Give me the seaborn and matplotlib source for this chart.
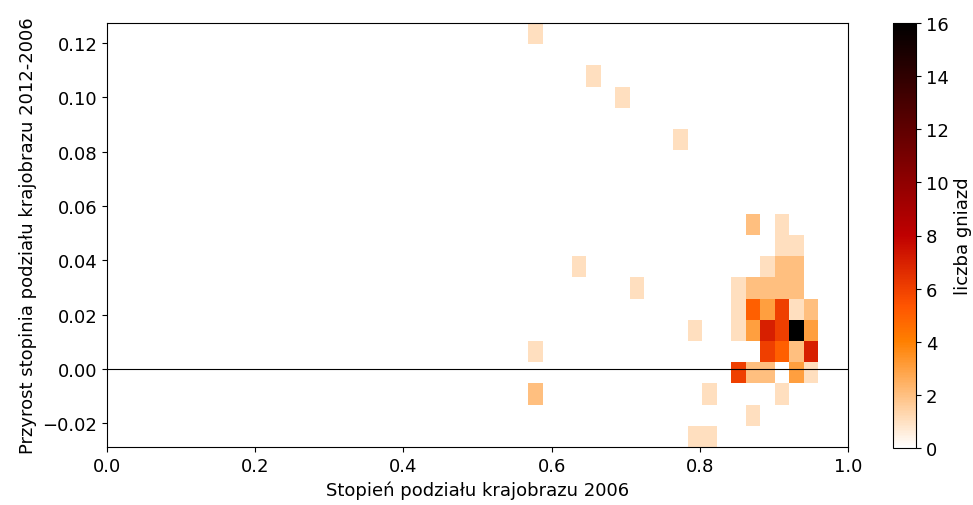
import numpy as np
import pandas as pd
import matplotlib
matplotlib.use("Agg")
import matplotlib.pyplot as plt
import seaborn as sns

# Values: landscape fragmentation 2006 (x),
# its increase 2012-2006 (y) and number of nests (count) per cell
x_vals = [0.578, 0.657, 0.696, 0.774,
          0.872, 0.911,
          0.911, 0.930,
          0.637, 0.891, 0.911, 0.930,
          0.715, 0.852, 0.872, 0.891, 0.911, 0.930,
          0.852, 0.872, 0.891, 0.911, 0.930, 0.950,
          0.794, 0.852, 0.872, 0.891, 0.911, 0.930, 0.950,
          0.578, 0.891, 0.911, 0.930, 0.950,
          0.852, 0.872, 0.891, 0.930, 0.950,
          0.578, 0.813, 0.911,
          0.872,
          0.794, 0.813]
y_vals = [0.1235, 0.1079, 0.1001, 0.0845,
          0.0532, 0.0532,
          0.0454, 0.0454,
          0.0376, 0.0376, 0.0376, 0.0376,
          0.0298, 0.0298, 0.0298, 0.0298, 0.0298, 0.0298,
          0.0220, 0.0220, 0.0220, 0.0220, 0.0220, 0.0220,
          0.0142, 0.0142, 0.0142, 0.0142, 0.0142, 0.0142, 0.0142,
          0.0064, 0.0064, 0.0064, 0.0064, 0.0064,
          -0.0014, -0.0014, -0.0014, -0.0014, -0.0014,
          -0.0092, -0.0092, -0.0092,
          -0.0170,
          -0.0248, -0.0248]
counts = [1, 1, 1, 1,
          2, 1,
          1, 1,
          1, 1, 2, 2,
          1, 1, 2, 2, 2, 2,
          1, 5, 3, 6, 1, 2,
          1, 1, 3, 7, 6, 16, 3,
          1, 6, 5, 2, 7,
          6, 2, 2, 3, 1,
          2, 1, 1,
          1,
          1, 1]

x_range = (0.5686, 0.9595)
y_range = (-0.0287, 0.1274)
n_bins = 20

df = pd.DataFrame({"x": x_vals, "y": y_vals, "n": counts})

fig = plt.figure(figsize=(9.73, 5.06), dpi=100)
ax = fig.add_axes([107 / 973, 58 / 506, 741 / 973, 424 / 506])
cax = fig.add_axes([893 / 973, 57 / 506, 23 / 973, 425 / 506])

x_edges = np.linspace(x_range[0], x_range[1], n_bins + 1)
y_edges = np.linspace(y_range[0], y_range[1], n_bins + 1)

sns.histplot(data=df, x="x", y="y", weights="n", bins=[x_edges, y_edges],
             cmap="gist_heat_r", vmin=0, vmax=16, ax=ax,
             cbar=True, cbar_ax=cax)

ax.axhline(0, color="black", lw=0.8)
ax.set_xlim(0, 1.0)
ax.set_ylim(*y_range)
fs = 13
ax.set_xlabel("Stopień podziału krajobrazu 2006", fontsize=fs)
ax.set_ylabel("Przyrost stopinia podziału krajobrazu 2012-2006", fontsize=fs)
ax.set_xticks([0.0, 0.2, 0.4, 0.6, 0.8, 1.0])
ax.set_yticks([-0.02, 0.0, 0.02, 0.04, 0.06, 0.08, 0.10, 0.12])
ax.tick_params(labelsize=fs)
cax.tick_params(labelsize=fs)
cax.set_yticks([0, 2, 4, 6, 8, 10, 12, 14, 16])
cax.set_ylabel("liczba gniazd", fontsize=fs)

fig.savefig("out.png", dpi=100)
